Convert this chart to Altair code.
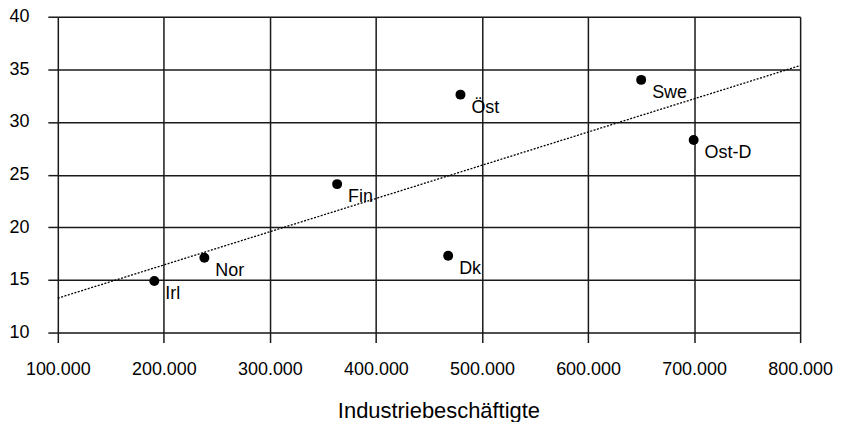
import altair as alt
import pandas as pd

countries = ["Irl", "Nor", "Fin", "Dk", "Öst", "Swe", "Ost-D"]
employees = [191000, 238200, 363400, 468100, 479700, 650100, 699600]
values = [14.9, 17.1, 24.1, 17.3, 32.6, 34.0, 28.3]

x_ticks = [100000, 200000, 300000, 400000, 500000, 600000, 700000, 800000]
y_ticks = [10, 15, 20, 25, 30, 35, 40]

df = pd.DataFrame({"land": countries, "x": employees, "y": values})

FONT = "Liberation Sans"

xscale = alt.Scale(domain=[100000, 800000], nice=False, zero=False)
yscale = alt.Scale(domain=[10, 40], nice=False, zero=False)

xaxis = alt.Axis(
    values=x_ticks,
    labelExpr="format(datum.value/1000, 'd') + '.000'",
    title="Industriebeschäftigte",
    titleFont=FONT, titleFontSize=22, titleFontWeight="normal", titleColor="#000",
    titleX=382, titleY=85, titleBaseline="alphabetic", titleAnchor="middle", titleAlign="center",
    labelFont=FONT, labelFontSize=18, labelColor="#000", labelPadding=18,
    tickSize=10, tickColor="#1a1a1a", tickWidth=1.5,
    grid=True, gridColor="#1a1a1a", gridWidth=1.5,
    domain=False, labelFlush=False, labelOverlap=False,
)
yaxis = alt.Axis(
    values=y_ticks,
    title=None,
    labelFont=FONT, labelFontSize=18, labelColor="#000", labelPadding=19,
    tickSize=10, tickColor="#1a1a1a", tickWidth=1.5,
    grid=True, gridColor="#1a1a1a", gridWidth=1.5,
    domain=False, labelFlush=False, labelOverlap=False,
)

base = alt.Chart(df)

points = base.mark_circle(size=100, color="#000", opacity=1).encode(
    x=alt.X("x:Q", scale=xscale, axis=xaxis),
    y=alt.Y("y:Q", scale=yscale, axis=yaxis),
)

labels = base.mark_text(
    align="left", baseline="alphabetic", dx=11, dy=18,
    font=FONT, fontSize=18, color="#000",
).encode(
    x=alt.X("x:Q", scale=xscale),
    y=alt.Y("y:Q", scale=yscale),
    text="land:N",
)

trend = base.transform_regression(
    "x", "y", extent=[100000, 800000]
).mark_line(color="#000", strokeWidth=1.3, strokeDash=[2, 1.5]).encode(
    x=alt.X("x:Q", scale=xscale),
    y=alt.Y("y:Q", scale=yscale),
)

chart = alt.layer(trend, points, labels).properties(
    width=745, height=317,
    autosize=alt.AutoSizeParams(type="none"),
    padding={"left": 50, "top": 8, "right": 35, "bottom": 89},
).configure_view(stroke=None).configure(background="#ffffff")

chart.save("out.html", embed_options={"renderer": "svg", "actions": False})
